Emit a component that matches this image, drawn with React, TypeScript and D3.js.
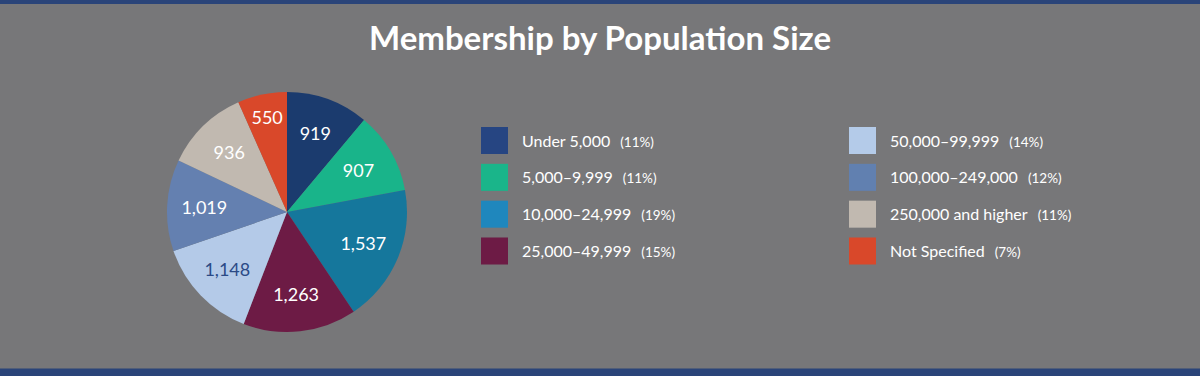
import React from "react";
import * as d3 from "d3";

const categories = [
  "Under 5,000",
  "5,000–9,999",
  "10,000–24,999",
  "25,000–49,999",
  "50,000–99,999",
  "100,000–249,000",
  "250,000 and higher",
  "Not Specified",
];
const values = [919, 907, 1537, 1263, 1148, 1019, 936, 550];
const percentLabels = ["(11%)", "(11%)", "(19%)", "(15%)", "(14%)", "(12%)", "(11%)", "(7%)"];
const sliceColors = ["#1b3b6e", "#19b48a", "#15779c", "#6d1b45", "#b4cae8", "#6480b0", "#c1b9b0", "#d9482a"];
const swatchColors = ["#264582", "#1ab58a", "#1f87bd", "#6d1b45", "#b4cbe9", "#6180b0", "#c1b9b0", "#d9482a"];
const labelColors = ["#ffffff", "#ffffff", "#ffffff", "#ffffff", "#2b4a86", "#ffffff", "#ffffff", "#ffffff"];

const W = 1200;
const H = 376;
const BG = "#777779";
const BAND = "#2a4479";
const FONT = "Lato, 'Open Sans', sans-serif";

export default function App() {
  const cx = 287;
  const cy = 212;
  const R = 120;
  const pie = d3.pie<number>().sort(null).value((d) => d);
  const arcs = pie(values);
  const arc = d3.arc<d3.PieArcDatum<number>>().innerRadius(0).outerRadius(R);
  // narrow slices get their label pushed further out
  const labelRadius = (a: d3.PieArcDatum<number>) =>
    a.endAngle - a.startAngle < 0.5 ? R * 0.8 : R * 0.69;

  const colX = [481, 849];
  const rowY = d3.scaleLinear().domain([0, 3]).range([127, 237.5]);

  return (
    <svg
      width={W}
      height={H}
      style={{ position: "absolute", left: 0, top: 0, display: "block" }}
      fontFamily={FONT}
    >
      <rect x={0} y={0} width={W} height={H} fill={BG} />
      <rect x={0} y={0} width={W} height={4} fill={BAND} />
      <rect x={0} y={368.5} width={W} height={7.5} fill={BAND} />
      <text x={600} y={49.5} textAnchor="middle" fill="#ffffff" fontSize={33} fontWeight={700}>
        Membership by Population Size
      </text>
      <g transform={`translate(${cx},${cy})`}>
        {arcs.map((a, i) => (
          <path key={i} d={arc(a) || ""} fill={sliceColors[i]} />
        ))}
        {arcs.map((a, i) => {
          const lr = labelRadius(a);
          const [x, y] = d3.arc<d3.PieArcDatum<number>>().innerRadius(lr).outerRadius(lr).centroid(a);
          return (
            <text
              key={"l" + i}
              x={x}
              y={y}
              dy="0.35em"
              textAnchor="middle"
              fill={labelColors[i]}
              fontSize={18}
            >
              {d3.format(",")(values[i])}
            </text>
          );
        })}
      </g>
      {categories.map((c, i) => {
        const col = Math.floor(i / 4);
        const row = i % 4;
        const x = colX[col];
        const y = rowY(row);
        return (
          <g key={"lg" + i}>
            <rect x={x} y={y} width={27} height={27} fill={swatchColors[i]} />
            <text x={x + 41} y={y + 19.5} fill="#ffffff" fontSize={16}>
              {c}
              <tspan dx={10} fontSize={13.5}>
                {percentLabels[i]}
              </tspan>
            </text>
          </g>
        );
      })}
    </svg>
  );
}
